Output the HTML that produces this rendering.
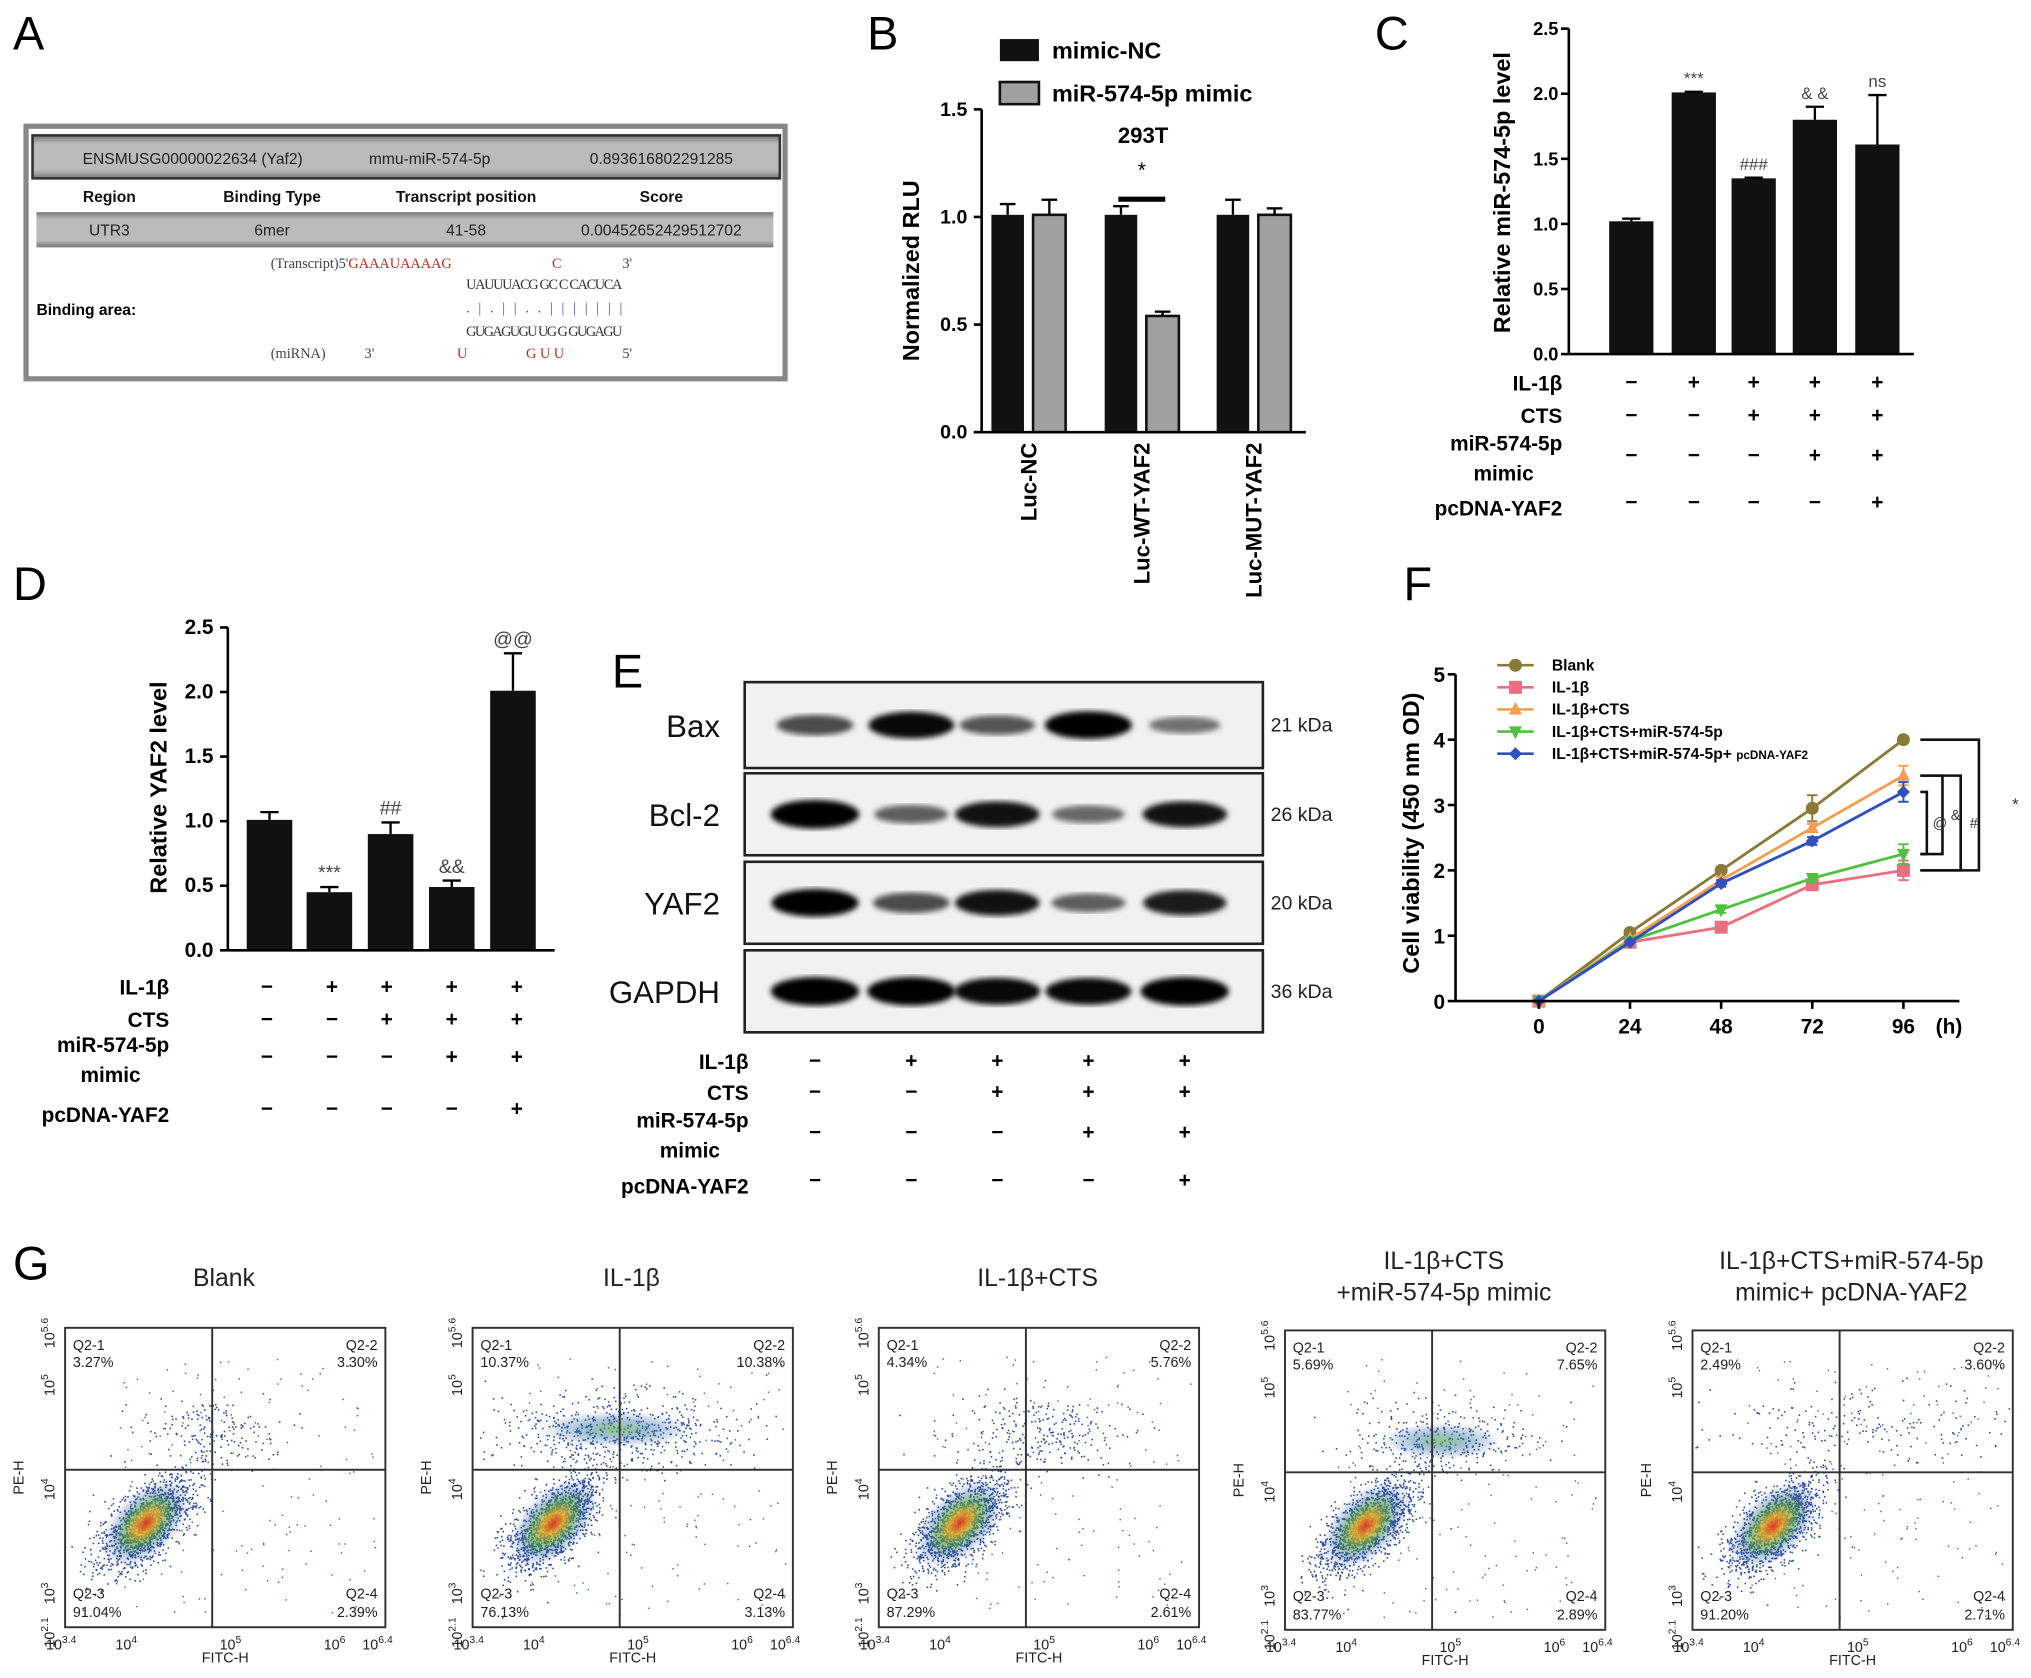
<!DOCTYPE html>
<html><head><meta charset="utf-8">
<style>
html,body{margin:0;padding:0;background:#fff;}
svg{display:block;font-family:"Liberation Sans",Arial,sans-serif;}
.b{font-weight:bold;}
.mono{font-family:"Liberation Serif",serif;}
</style></head>
<body>
<svg id="fig" xmlns="http://www.w3.org/2000/svg" width="2031" height="1678" viewBox="0 0 1560 1289" preserveAspectRatio="none">
<defs>
<radialGradient id="dens" cx="50%" cy="50%" r="50%">
<stop offset="0" stop-color="#e03020" stop-opacity="0.95"/>
<stop offset="0.25" stop-color="#e8b020" stop-opacity="0.85"/>
<stop offset="0.5" stop-color="#50a040" stop-opacity="0.6"/>
<stop offset="0.8" stop-color="#2050a0" stop-opacity="0.2"/>
<stop offset="1" stop-color="#2050a0" stop-opacity="0"/>
</radialGradient>
<radialGradient id="dens2" cx="50%" cy="50%" r="50%">
<stop offset="0" stop-color="#60b050" stop-opacity="0.7"/>
<stop offset="0.5" stop-color="#3070a0" stop-opacity="0.4"/>
<stop offset="1" stop-color="#2050a0" stop-opacity="0"/>
</radialGradient>
<filter id="blur4"><feGaussianBlur stdDeviation="4"/></filter>
<filter id="blur2"><feGaussianBlur stdDeviation="2.2"/></filter>
<linearGradient id="hdr" x1="0" y1="0" x2="0" y2="1"><stop offset="0" stop-color="#777"/><stop offset="0.2" stop-color="#bbb"/><stop offset="0.8" stop-color="#bbb"/><stop offset="1" stop-color="#777"/></linearGradient>
</defs>

<text x="10" y="38" font-size="36">A</text>
<text x="666" y="38" font-size="36">B</text>
<text x="1056" y="38" font-size="36">C</text>
<text x="10" y="461" font-size="36">D</text>
<text x="470" y="528" font-size="36">E</text>
<text x="1078" y="461" font-size="36">F</text>
<text x="10" y="983" font-size="36">G</text>

<g>
<rect x="20" y="97" width="583" height="194" fill="#fff" stroke="#888" stroke-width="4"/>
<rect x="25" y="104" width="574" height="33" fill="url(#hdr)" stroke="#333" stroke-width="2"/>
<g font-size="12" fill="#222" text-anchor="middle">
<text x="148" y="126">ENSMUSG00000022634 (Yaf2)</text>
<text x="330" y="126">mmu-miR-574-5p</text>
<text x="508" y="126">0.893616802291285</text>
</g>
<g font-size="12" font-weight="bold" text-anchor="middle" fill="#111">
<text x="84" y="155">Region</text>
<text x="209" y="155">Binding Type</text>
<text x="358" y="155">Transcript position</text>
<text x="508" y="155">Score</text>
</g>
<rect x="28" y="163" width="566" height="27" fill="url(#hdr)"/>
<g font-size="12" text-anchor="middle" fill="#222">
<text x="84" y="181">UTR3</text>
<text x="209" y="181">6mer</text>
<text x="358" y="181">41-58</text>
<text x="508" y="181">0.00452652429512702</text>
</g>
<text x="28" y="242" font-size="12" font-weight="bold">Binding area:</text>
<g class="mono" font-size="11">
<text x="208" y="206" fill="#444">(Transcript)5'<tspan fill="#b03020">GAAAUAAAAG</tspan></text>
<text x="424" y="206" fill="#b03020">C</text>
<text x="478" y="206" fill="#444">3'</text>
<text x="358" y="222" fill="#334" textLength="120">UAUUUACG GC C CACUCA</text>
<text x="358" y="240" fill="#4050a0" textLength="120">. | . | | . . | | | | | | |</text>
<text x="358" y="258" fill="#334" textLength="120">GUGAGUGU UG G GUGAGU</text>
<text x="208" y="275" fill="#444">(miRNA)</text>
<text x="280" y="275" fill="#444">3'</text>
<text x="351" y="275" fill="#b03020">U</text>
<text x="404" y="275" fill="#b03020">G  U U</text>
<text x="478" y="275" fill="#444">5'</text>
</g>
</g>

<g id="charts"></g>
</svg>

<script>
const bCategories = ["Luc-NC","Luc-WT-YAF2","Luc-MUT-YAF2"];
const bSeries = ["mimic-NC","miR-574-5p mimic"];
const bNC = [1.01, 1.01, 1.01];
const bMimic = [1.01, 0.54, 1.01];
const bNCErr = [0.05, 0.04, 0.07];
const bMimicErr = [0.07, 0.02, 0.03];
const bTicks = [0, 0.5, 1.0, 1.5];
const cValues = [1.02, 2.01, 1.35, 1.80, 1.61];
const cErr = [0.02, 0.005, 0.005, 0.10, 0.38];
const cMarks = ["", "***", "###", "& &", "ns"];
const cTicks = [0, 0.5, 1.0, 1.5, 2.0, 2.5];
const dValues = [1.01, 0.45, 0.90, 0.49, 2.01];
const dErr = [0.06, 0.04, 0.09, 0.05, 0.29];
const dMarks = ["", "***", "##", "&&", "@@"];
const dTicks = [0, 0.5, 1.0, 1.5, 2.0, 2.5];
const treatLabels = ["IL-1β","CTS","miR-574-5p","pcDNA-YAF2"];
const treatIL = ["−","+","+","+","+"];
const treatCTS = ["−","−","+","+","+"];
const treatMiR = ["−","−","−","+","+"];
const treatPc = ["−","−","−","−","+"];
const blotProteins = ["Bax","Bcl-2","YAF2","GAPDH"];
const blotKDa = ["21 kDa","26 kDa","20 kDa","36 kDa"];
const baxBand = [0.55, 0.9, 0.5, 0.95, 0.35];
const bcl2Band = [1.0, 0.45, 0.85, 0.4, 0.85];
const yaf2Band = [0.95, 0.55, 0.85, 0.45, 0.8];
const gapdhBand = [1.0, 1.0, 0.9, 0.9, 1.0];
const fTimes = [0, 24, 48, 72, 96];
const fSeriesNames = ["Blank","IL-1β","IL-1β+CTS","IL-1β+CTS+miR-574-5p","IL-1β+CTS+miR-574-5p+ pcDNA-YAF2"];
const fBlank = [0, 1.05, 2.0, 2.95, 4.0];
const fIL = [0, 0.9, 1.13, 1.78, 2.0];
const fCTS = [0, 0.95, 1.85, 2.65, 3.45];
const fMiR = [0, 0.92, 1.4, 1.88, 2.25];
const fPc = [0, 0.9, 1.8, 2.45, 3.2];
const fErrBlank = [0, 0.03, 0.05, 0.2, 0.05];
const fErrOther = [0, 0.03, 0.05, 0.06, 0.15];
const fTicks = [0,1,2,3,4,5];
const gTitles = [["Blank"],["IL-1β"],["IL-1β+CTS"],["IL-1β+CTS","+miR-574-5p mimic"],["IL-1β+CTS+miR-574-5p","mimic+ pcDNA-YAF2"]];
const gQ1 = ["3.27%","10.37%","4.34%","5.69%","2.49%"];
const gQ2 = ["3.30%","10.38%","5.76%","7.65%","3.60%"];
const gQ3 = ["91.04%","76.13%","87.29%","83.77%","91.20%"];
const gQ4 = ["2.39%","3.13%","2.61%","2.89%","2.71%"];

const NS = "http://www.w3.org/2000/svg";
const root = document.getElementById("charts");
function mk(tag, attrs, name, parent){
  const el = document.createElementNS(NS, tag);
  for (const k in attrs) el.setAttribute(k, attrs[k]);
  
  
  (parent || root).appendChild(el);
  return el;
}
function txt(s, attrs, name, parent){ const t = mk("text", attrs, name, parent); t.textContent = s; return t; }
function line(x1,y1,x2,y2,name,w,col,parent){ return mk("line",{x1,y1,x2,y2,stroke:col||"#000","stroke-width":w||2},name,parent); }
function yAxis(x, scale, ticks, labX, fs, name){
  const g = mk("g",{},name);
  line(x, scale(ticks[ticks.length-1]), x, scale(ticks[0]), name+"-line", 2, "#000", g);
  ticks.forEach(t=>{
    line(x-6, scale(t), x, scale(t), "y-tick", 2, "#000", g);
    txt(t.toFixed(1), {x:labX, y:scale(t)+5, "font-size":fs, "font-weight":"bold","text-anchor":"end"}, "y-tick-label", g);
  });
}
function errBar(cx, yTop, yErr, half, name, parent){
  line(cx, yTop, cx, yErr, name, 1.8, "#000", parent);
  line(cx-half, yErr, cx+half, yErr, name+"-cap", 1.8, "#000", parent);
}
function treatTable(xs, rowsY, labelX, fs, name){
  const g = mk("g",{},name);
  const rows = [treatIL, treatCTS, treatMiR, treatPc];
  txt("IL-1β",{x:labelX,y:rowsY[0]+6,"font-size":fs,"font-weight":"bold","text-anchor":"end"},"row-label-il1b",g);
  txt("CTS",{x:labelX,y:rowsY[1]+6,"font-size":fs,"font-weight":"bold","text-anchor":"end"},"row-label-cts",g);
  txt("miR-574-5p",{x:labelX,y:rowsY[2]-4,"font-size":fs,"font-weight":"bold","text-anchor":"end"},"row-label-mir",g);
  txt("mimic",{x:labelX-22,y:rowsY[2]+19,"font-size":fs,"font-weight":"bold","text-anchor":"end"},"row-label-mimic",g);
  txt("pcDNA-YAF2",{x:labelX,y:rowsY[3]+10,"font-size":fs,"font-weight":"bold","text-anchor":"end"},"row-label-pcdna",g);
  rows.forEach((r,ri)=>r.forEach((s,i)=>{
    txt(s,{x:xs[i],y:rowsY[ri]+5,"font-size":fs,"font-weight":"bold","text-anchor":"middle"},"treatment-sign",g);
  }));
}

(function(){
  const y0=332, y1=84, vmax=1.5;
  const s = v => y0 - v*(y0-y1)/vmax;
  const centers=[790,877,963], bw=25, off=16;
  const g = mk("g",{},"luciferase-chart");
  mk("rect",{x:768,y:30,width:30,height:17,fill:"#111"},"legend-swatch-mimic-nc",g);
  txt(bSeries[0],{x:808,y:45,"font-size":18,"font-weight":"bold"},"legend-label-mimic-nc",g);
  mk("rect",{x:768,y:63,width:30,height:17,fill:"#a0a0a0",stroke:"#111","stroke-width":2},"legend-swatch-mimic",g);
  txt(bSeries[1],{x:808,y:78,"font-size":18,"font-weight":"bold"},"legend-label-mimic",g);
  txt("293T",{x:878,y:110,"font-size":17,"font-weight":"bold","text-anchor":"middle"},"chart-subtitle-293t",g);
  bCategories.forEach((c,i)=>{
    const xa=centers[i]-off-bw/2, xb=centers[i]+off-bw/2;
    mk("rect",{x:xa,y:s(bNC[i]),width:bw,height:y0-s(bNC[i]),fill:"#111"},"bar-mimic-nc-"+i,g);
    errBar(centers[i]-off, s(bNC[i]), s(bNC[i]+bNCErr[i]), 6, "err-mimic-nc", g);
    mk("rect",{x:xb,y:s(bMimic[i]),width:bw,height:y0-s(bMimic[i]),fill:"#a0a0a0",stroke:"#111","stroke-width":2},"bar-mimic-"+i,g);
    errBar(centers[i]+off, s(bMimic[i]), s(bMimic[i]+bMimicErr[i]), 6, "err-mimic", g);
    txt(c,{x:0,y:0,"font-size":17,"font-weight":"bold","text-anchor":"end",transform:`translate(${centers[i]+6},340) rotate(-90)`},"x-label-"+c,g);
  });
  line(859,153,895,153,"significance-line",4,"#000",g);
  txt("*",{x:877,y:136,"font-size":16,"text-anchor":"middle"},"significance-star",g);
  yAxis(754, s, bTicks, 743, 15, "y-axis-b");
  line(748,y0,1003,y0,"x-axis-b",2);
  txt("Normalized RLU",{x:0,y:0,"font-size":18,"font-weight":"bold","text-anchor":"middle",transform:"translate(706,208) rotate(-90)"},"y-axis-title-b");
})();

(function(){
  const y0=272, y1=22, vmax=2.5;
  const s = v => y0 - v*(y0-y1)/vmax;
  const centers=[1253,1301,1347,1394,1442], bw=34;
  const g = mk("g",{},"mir-level-chart");
  cValues.forEach((v,i)=>{
    mk("rect",{x:centers[i]-bw/2,y:s(v),width:bw,height:y0-s(v),fill:"#111"},"bar-c-"+i,g);
    errBar(centers[i], s(v), s(v+cErr[i]), 7, "err-c", g);
    if(cMarks[i]) txt(cMarks[i],{x:centers[i],y:s(v+cErr[i])-6,"font-size":13,fill:"#444","text-anchor":"middle"},"annotation-c",g);
  });
  yAxis(1205, s, cTicks, 1197, 14, "y-axis-c");
  line(1205,y0,1470,y0,"x-axis-c",2);
  txt("Relative miR-574-5p level",{x:0,y:0,"font-size":18,"font-weight":"bold","text-anchor":"middle",transform:"translate(1160,148) rotate(-90)"},"y-axis-title-c");
  treatTable(centers,[294,319,350,386],1200,16,"treatment-table-c");
})();

(function(){
  const y0=730, y1=482, vmax=2.5;
  const s = v => y0 - v*(y0-y1)/vmax;
  const centers=[207,253,300,347,394], bw=35;
  const g = mk("g",{},"yaf2-level-chart");
  dValues.forEach((v,i)=>{
    mk("rect",{x:centers[i]-bw/2,y:s(v),width:bw,height:y0-s(v),fill:"#111"},"bar-d-"+i,g);
    errBar(centers[i], s(v), s(v+dErr[i]), 7, "err-d", g);
    if(dMarks[i]) txt(dMarks[i],{x:centers[i],y:s(v+dErr[i])-6,"font-size":15,fill:"#444","text-anchor":"middle"},"annotation-d",g);
  });
  yAxis(175, s, dTicks, 164, 16, "y-axis-d");
  line(175,y0,426,y0,"x-axis-d",2);
  txt("Relative YAF2 level",{x:0,y:0,"font-size":18,"font-weight":"bold","text-anchor":"middle",transform:"translate(128,605) rotate(-90)"},"y-axis-title-d");
  treatTable([205,255,297,347,397],[758,783,812,852],130,16,"treatment-table-d");
})();

(function(){
  const g = mk("g",{},"western-blot");
  const lanes=[626,700,766,836,910];
  const boxes=[[524,590],[594,657],[662,725],[730,793]];
  const bands=[baxBand,bcl2Band,yaf2Band,gapdhBand];
  blotProteins.forEach((p,r)=>{
    const [t,b]=boxes[r];
    mk("rect",{x:572,y:t,width:398,height:b-t,fill:"#f1f1f1",stroke:"#222","stroke-width":2},"blot-box-"+p,g);
    const cy=(t+b)/2;
    bands[r].forEach((v,i)=>{
      mk("ellipse",{cx:lanes[i],cy:cy,rx:24+v*10,ry:4+v*7,fill:"#000","fill-opacity":Math.min(1,0.25+v*0.8),filter:"url(#blur2)"},"band-"+p+"-"+i,g);
    });
    txt(p,{x:553,y:cy+9,"font-size":24,"text-anchor":"end",fill:"#111"},"blot-label-"+p,g);
    txt(blotKDa[r],{x:976,y:cy+5,"font-size":15,fill:"#222"},"kda-label-"+p,g);
  });
  treatTable(lanes,[815,839,870,907],575,16,"treatment-table-e");
})();

(function(){
  const x0=1182, x1=1462, y0=769, y5=518;
  const sx = t => x0 + (t-fTimes[0])*(x1-x0)/(fTimes[4]-fTimes[0]);
  const sy = v => y0 - v*(y0-y5)/5;
  const g = mk("g",{},"viability-chart");
  const series=[fBlank,fIL,fCTS,fMiR,fPc];
  const cols=["#8a7a3a","#e87080","#f0a050","#50c040","#3050c0"];
  const shapes=["circle","square","tri","tridown","diamond"];
  function marker(x,y,k,col,parent){
    const sz=5;
    if(shapes[k]==="circle") return mk("circle",{cx:x,cy:y,r:sz,fill:col},"marker",parent);
    if(shapes[k]==="square") return mk("rect",{x:x-sz,y:y-sz,width:2*sz,height:2*sz,fill:col},"marker",parent);
    let pts;
    if(shapes[k]==="tri") pts=`${x},${y-sz-1} ${x-sz},${y+sz-1} ${x+sz},${y+sz-1}`;
    else if(shapes[k]==="tridown") pts=`${x},${y+sz+1} ${x-sz},${y-sz+1} ${x+sz},${y-sz+1}`;
    else pts=`${x},${y-sz} ${x+sz},${y} ${x},${y+sz} ${x-sz},${y}`;
    return mk("polygon",{points:pts,fill:col},"marker",parent);
  }
  series.forEach((d,k)=>{
    const sg=mk("g",{},"series-"+fSeriesNames[k],g);
    mk("polyline",{points:d.map((v,i)=>sx(fTimes[i])+","+sy(v)).join(" "),fill:"none",stroke:cols[k],"stroke-width":2.2},"line-"+k,sg);
    const errs = k===0?fErrBlank:fErrOther;
    d.forEach((v,i)=>{
      if(errs[i]>0.04){ line(sx(fTimes[i]),sy(v-errs[i]),sx(fTimes[i]),sy(v+errs[i]),"err-f",1.5,cols[k],sg);
        line(sx(fTimes[i])-4,sy(v+errs[i]),sx(fTimes[i])+4,sy(v+errs[i]),"err-cap-f",1.5,cols[k],sg);
        line(sx(fTimes[i])-4,sy(v-errs[i]),sx(fTimes[i])+4,sy(v-errs[i]),"err-cap-f",1.5,cols[k],sg);}
      marker(sx(fTimes[i]),sy(v),k,cols[k],sg);
    });
    const ly=511+k*17;
    line(1150,ly,1178,ly,"legend-line-"+k,2,cols[k],g);
    marker(1164,ly,k,cols[k],g);
    const lt=txt(k===4?"IL-1β+CTS+miR-574-5p+ ":fSeriesNames[k],{x:1192,y:ly+4,"font-size":12,"font-weight":"bold"},"legend-label-"+k,g);
    if(k===4){ const ts=document.createElementNS(NS,"tspan"); ts.setAttribute("font-size","9"); ts.textContent="pcDNA-YAF2"; lt.appendChild(ts); }
  });
  line(1118,y5,1118,y0,"y-axis-f",2,"#000",g);
  fTicks.forEach(t=>{ line(1112,sy(t),1118,sy(t),"y-tick-f",2,"#000",g);
    txt(String(t),{x:1110,y:sy(t)+6,"font-size":16,"font-weight":"bold","text-anchor":"end"},"y-tick-label-f",g);});
  line(1118,y0,1505,y0,"x-axis-f",2,"#000",g);
  fTimes.forEach(t=>{ line(sx(t),y0,sx(t),y0+6,"x-tick-f",2,"#000",g);
    txt(String(t),{x:sx(t),y:794,"font-size":16,"font-weight":"bold","text-anchor":"middle"},"x-tick-label-f",g);});
  txt("(h)",{x:1497,y:794,"font-size":16,"font-weight":"bold","text-anchor":"middle"},"x-unit-f",g);
  txt("Cell viability (450 nm OD)",{x:0,y:0,"font-size":18,"font-weight":"bold","text-anchor":"middle",transform:"translate(1090,640) rotate(-90)"},"y-axis-title-f",g);
  const br=[[fBlank,fIL,1520,"*"],[fCTS,fIL,1506,"#"],[fCTS,fMiR,1492,"&"],[fPc,fMiR,1480,"@"]];
  br.forEach((b,i)=>{
    const ya=sy(b[0][4]), yb=sy(b[1][4]);
    mk("polyline",{points:`1475,${ya} ${b[2]},${ya} ${b[2]},${yb} 1475,${yb}`,fill:"none",stroke:"#111","stroke-width":2},"bracket-"+i,g);
    txt(b[3],{x:b[2]+(i===0?28:10),y:(ya+yb)/2+4,"font-size":i===0?13:11,"text-anchor":"middle",fill:"#333"},"bracket-label-"+i,g);
  });
})();

(function(){
  let seed=12345;
  function rnd(){ seed=(seed*1103515245+12345)%2147483648; return seed/2147483648; }
  function gauss(){ let u=rnd()||1e-6, v=rnd(); return Math.sqrt(-2*Math.log(u))*Math.cos(2*Math.PI*v); }
  const lefts=[50,363,675,987,1300];
  const tops=[1020,1020,1020,1022,1022];
  const W=246,H=230;
  const up=[[110,80,25,180],[110,78,45,600],[125,80,35,260],[120,85,35,330],[130,70,60,180]];
  gTitles.forEach((tl,p)=>{
    const L=lefts[p], T=tops[p];
    const g=mk("g",{},"flow-plot-"+p);
    tl.forEach((s,j)=>txt(s,{x:L+122,y:(tl.length===1?988:975+j*24),"font-size":19,"text-anchor":"middle",fill:"#222"},"flow-title",g));
    mk("rect",{x:L,y:T,width:W,height:H,fill:"#fff",stroke:"#333","stroke-width":1.5},"flow-frame",g);
    const dg=mk("g",{},"flow-events",g);
    for(let n=0;n<1400;n++){
      const a=gauss()*22, b=gauss()*12;
      const x=L+62+a*0.75+b*0.65, y=T+150-a*0.75+b*0.65;
      if(x<L+2||y>T+H-2) continue;
      mk("rect",{x:x,y:y,width:1.2,height:1.2,fill:"#2a48a0"},"event-dot",dg);
    }
    const u=up[p];
    for(let n=0;n<u[3];n++){
      const x=L+u[0]+gauss()*u[2], y=T+u[1]+gauss()*14;
      if(x<L+2||x>L+W-2||y<T+2) continue;
      mk("rect",{x:x,y:y,width:1.2,height:1.2,fill:"#2a48a0"},"event-dot",dg);
    }
    for(let n=0;n<160;n++){
      const x=L+40+rnd()*200, y=T+20+rnd()*200;
      mk("rect",{x:x,y:y,width:1.1,height:1.1,fill:"#4060b0"},"event-dot",dg);
    }
    mk("ellipse",{cx:L+62,cy:T+150,rx:42,ry:24,fill:"url(#dens)",transform:`rotate(-45 ${L+62} ${T+150})`},"density-core",g);
    if(u[3]>300) mk("ellipse",{cx:L+u[0],cy:T+u[1],rx:u[2]*1.3,ry:14,fill:"url(#dens2)"},"density-upper",g);
    line(L+113,T,L+113,T+H,"quadrant-v",1.5,"#333",g);
    line(L,T+109,L+W,T+109,"quadrant-h",1.5,"#333",g);
    const fs=11;
    txt("Q2-1",{x:L+6,y:T+17,"font-size":fs,fill:"#222"},"q1-name",g);
    txt(gQ1[p],{x:L+6,y:T+30,"font-size":fs,fill:"#222"},"q1-value",g);
    txt("Q2-2",{x:L+W-6,y:T+17,"font-size":fs,"text-anchor":"end",fill:"#222"},"q2-name",g);
    txt(gQ2[p],{x:L+W-6,y:T+30,"font-size":fs,"text-anchor":"end",fill:"#222"},"q2-value",g);
    txt("Q2-3",{x:L+6,y:T+H-22,"font-size":fs,fill:"#222"},"q3-name",g);
    txt(gQ3[p],{x:L+6,y:T+H-8,"font-size":fs,fill:"#222"},"q3-value",g);
    txt("Q2-4",{x:L+W-6,y:T+H-22,"font-size":fs,"text-anchor":"end",fill:"#222"},"q4-name",g);
    txt(gQ4[p],{x:L+W-6,y:T+H-8,"font-size":fs,"text-anchor":"end",fill:"#222"},"q4-value",g);
    const xt=[["3.4",0],["4",50],["5",130],["6",210],["6.4",243]];
    xt.forEach(t=>{ const e=txt("10",{x:L+t[1]-3,y:T+H+17,"font-size":11,"text-anchor":"middle",fill:"#222"},"x-tick-label-g",g);
      const ts=document.createElementNS(NS,"tspan"); ts.setAttribute("font-size","8"); ts.setAttribute("dy","-5"); ts.textContent=t[0]; e.appendChild(ts);});
    const yt=[["5.6",0],["5",40],["4",120],["3",200],["2.1",H]];
    yt.forEach(t=>{ const e=txt("10",{x:0,y:0,"font-size":11,"text-anchor":"middle",fill:"#222",transform:`translate(${L-8},${T+t[1]+4}) rotate(-90)`},"y-tick-label-g",g);
      const ts=document.createElementNS(NS,"tspan"); ts.setAttribute("font-size","8"); ts.setAttribute("dy","-5"); ts.textContent=t[0]; e.appendChild(ts);});
    txt("FITC-H",{x:L+123,y:T+H+27,"font-size":11,"text-anchor":"middle",fill:"#222"},"x-axis-title-g",g);
    txt("PE-H",{x:0,y:0,"font-size":11,"text-anchor":"middle",fill:"#222",transform:`translate(${L-32},${T+115}) rotate(-90)`},"y-axis-title-g",g);
  });
})();
</script>
</body></html>
